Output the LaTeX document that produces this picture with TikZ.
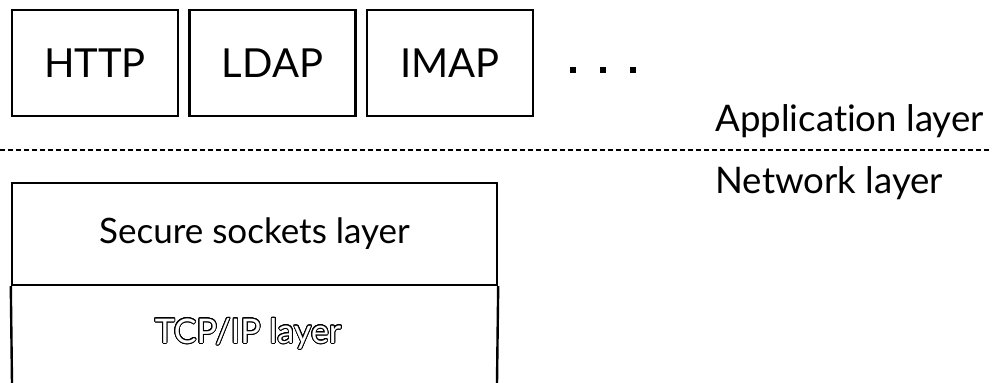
\documentclass[tikz,border=0pt]{standalone}
\usepackage{fontspec}
\setmainfont{Lato}[Ligatures={NoCommon}]
\usepackage[copies]{contour}
\contourlength{0.45pt}
\contournumber{24}

\tikzset{
	protobox/.style={draw, line width=1.2pt, minimum width=83pt, minimum height=53pt,
		inner sep=0pt, font=\fontsize{20}{24}\selectfont},
	layerbox/.style={draw, line width=1.2pt, minimum width=242.5pt, minimum height=51pt,
		inner sep=0pt, font=\fontsize{17.5}{21}\selectfont},
	layername/.style={anchor=base west, inner sep=0pt, font=\fontsize{18.3}{22}\selectfont},
}

\begin{document}
\begin{tikzpicture}[x=0.5pt, y=-0.5pt]
			\useasboundingbox (0,0) rectangle (992,382);
			% application protocols
			\foreach \i/\name in {0/HTTP,1/LDAP,2/IMAP}{
				\node[protobox] (\name) at (95+177.5*\i, 63) {\name};
			}
			\node[inner sep=0pt] (more) at (603, 70)
				{\rule{2.6pt}{2.6pt}\hspace{12.4pt}\rule{2.6pt}{2.6pt}\hspace{12.4pt}\rule{2.6pt}{2.6pt}};
			% layer boundary
			\coordinate (cutL) at (0,150);
			\coordinate (cutR) at (992,150);
			\draw[line width=0.7pt, dash pattern=on 2.4pt off 1.6pt] (cutL) -- (cutR);
			\node[layername] (app) at (715,131) {Application layer};
			\node[layername] (net) at (715,193) {Network layer};
			% network stack
			\node[layerbox] (ssl) at (254.5,234) {Secure sockets layer};
			\coordinate (tcpL) at (12,383);
			\coordinate (tcpR) at (497,383);
			\draw[line width=1.2pt] (ssl.south west) -- (tcpL);
			\draw[line width=1.2pt] (ssl.south east) -- (tcpR);
			\node[inner sep=0pt, font=\fontsize{17}{20}\selectfont] (tcp) at (248,334)
				{\contour{black}{\textcolor{white}{TCP/IP layer}}};
		\end{tikzpicture}
\end{document}
